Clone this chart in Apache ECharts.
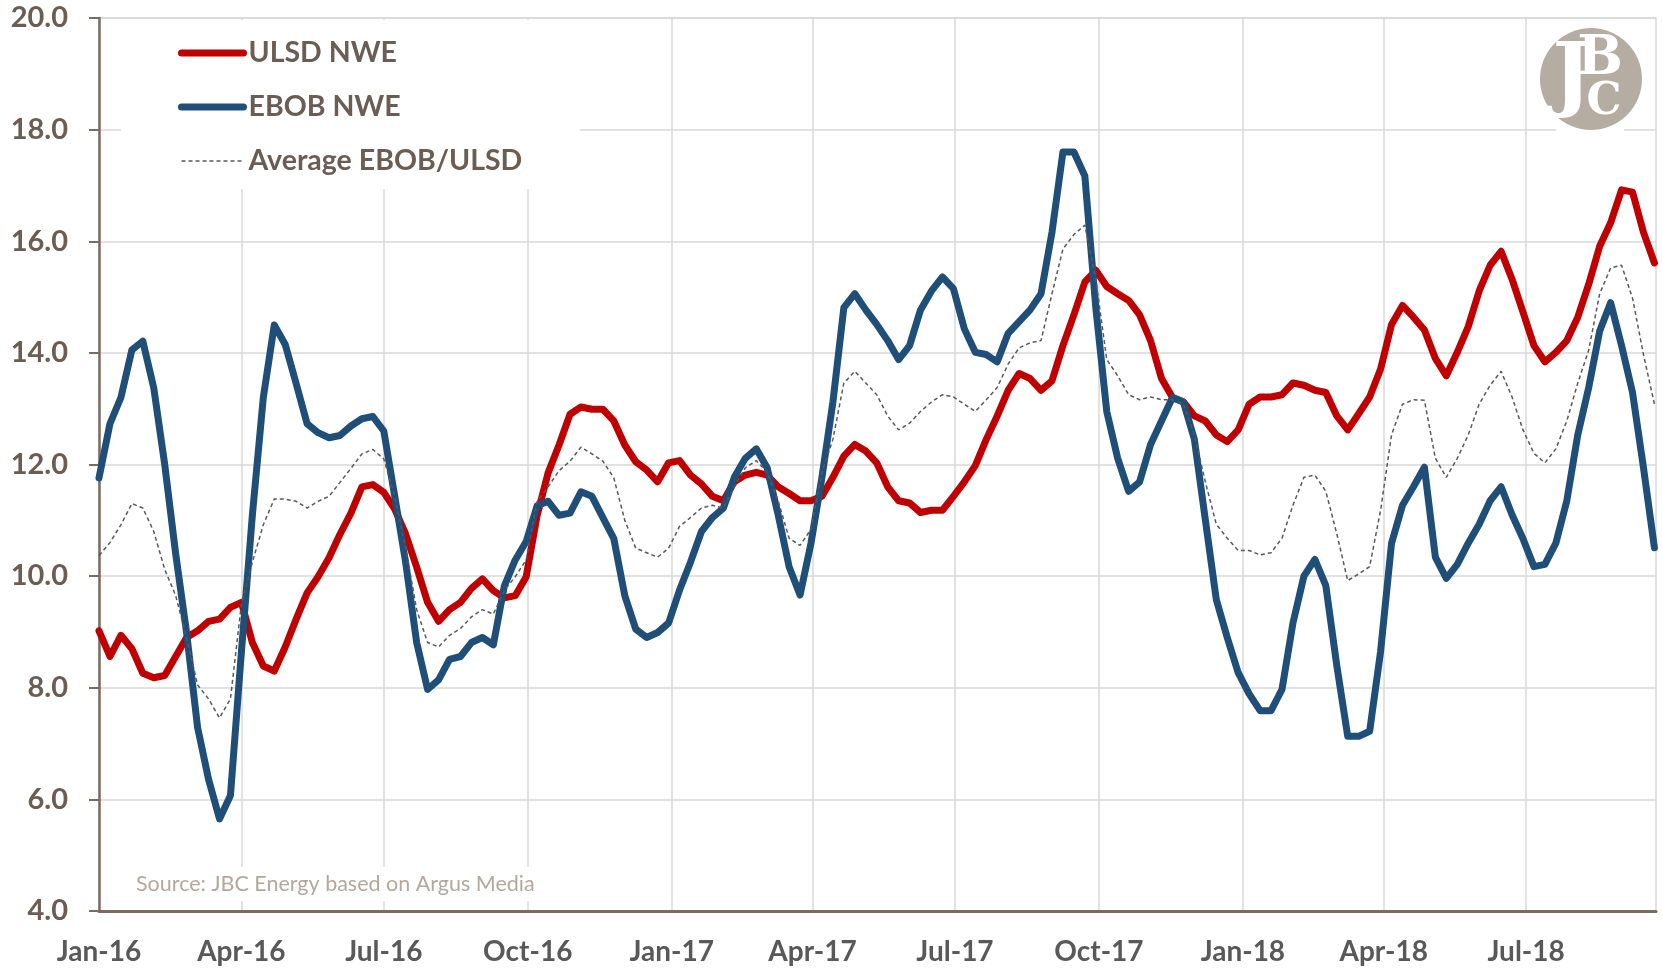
<!DOCTYPE html>
<html style="height: 100%">
<head>
    <meta charset="utf-8">
    <title>ULSD / EBOB NWE</title>
</head>
<body style="height: 100%; margin: 0; background: #fff">
<div id="container" style="width: 1662px; height: 969px"></div>
<script type="text/javascript" src="https://cdn.jsdelivr.net/npm/echarts@6/dist/echarts.min.js"></script>
<script type="text/javascript">
    // weekly readings, first one on 1 Jan 2016
    var startDate = [2016, 0, 1];
    var stepDays = 7;

    var ulsd = [
        9.02, 8.56, 8.94, 8.7, 8.26, 8.18, 8.22, 8.56, 8.9, 9.02,
        9.19, 9.23, 9.44, 9.53, 8.81, 8.39, 8.3, 8.73, 9.23, 9.7,
        9.99, 10.33, 10.75, 11.13, 11.6, 11.64, 11.5, 11.2, 10.75, 10.16,
        9.53, 9.19, 9.4, 9.53, 9.78, 9.95, 9.74, 9.61, 9.65, 9.99,
        11.09, 11.85, 12.35, 12.9, 13.03, 12.99, 12.99, 12.78, 12.35, 12.05,
        11.9, 11.69, 12.03, 12.07, 11.81, 11.65, 11.43, 11.35, 11.69, 11.81,
        11.86, 11.81, 11.6, 11.48, 11.35, 11.35, 11.43, 11.77, 12.15, 12.36,
        12.24, 12.03, 11.6, 11.35, 11.31, 11.14, 11.18, 11.18, 11.43, 11.69,
        11.98, 12.45, 12.87, 13.33, 13.63, 13.54, 13.33, 13.5, 14.13, 14.68,
        15.27, 15.48, 15.19, 15.06, 14.94, 14.68, 14.22, 13.54, 13.2, 13.12,
        12.87, 12.78, 12.53, 12.41, 12.62, 13.08, 13.21, 13.21, 13.25, 13.46,
        13.42, 13.33, 13.29, 12.87, 12.62, 12.91, 13.21, 13.71, 14.51, 14.85,
        14.64, 14.41, 13.9, 13.59, 14.01, 14.47, 15.11, 15.57, 15.82, 15.32,
        14.73, 14.13, 13.84, 14.01, 14.22, 14.64, 15.23, 15.91, 16.33, 16.92,
        16.88, 16.16, 15.61
    ];
    var ebob = [
        11.76, 12.73, 13.2, 14.05, 14.21, 13.37, 12.0, 10.4, 8.98, 7.29,
        6.36, 5.65, 6.07, 8.64, 11.09, 13.2, 14.5, 14.15, 13.45, 12.73,
        12.57, 12.48, 12.52, 12.69, 12.82, 12.86, 12.6, 11.43, 10.24, 8.81,
        7.97, 8.14, 8.51, 8.56, 8.81, 8.9, 8.77, 9.82, 10.29, 10.62,
        11.26, 11.34, 11.09, 11.13, 11.51, 11.43, 11.05, 10.67, 9.65, 9.05,
        8.9, 8.99, 9.16, 9.75, 10.25, 10.8, 11.05, 11.22, 11.77, 12.11,
        12.28, 11.94, 11.1, 10.17, 9.66, 10.59, 11.77, 13.12, 14.81, 15.06,
        14.77, 14.51, 14.22, 13.88, 14.13, 14.77, 15.11, 15.36, 15.15, 14.43,
        14.01, 13.97, 13.84, 14.35, 14.56, 14.77, 15.06, 16.16, 17.6, 17.6,
        17.17, 14.81, 12.95, 12.11, 11.52, 11.69, 12.36, 12.78, 13.2, 13.12,
        12.45, 11.01, 9.58, 8.9, 8.27, 7.89, 7.59, 7.59, 7.97, 9.16,
        10.0, 10.3, 9.83, 8.4, 7.13, 7.13, 7.22, 8.65, 10.59, 11.27,
        11.6, 11.95, 10.34, 9.96, 10.21, 10.59, 10.93, 11.35, 11.6, 11.1,
        10.67, 10.17, 10.21, 10.59, 11.35, 12.53, 13.38, 14.39, 14.9, 14.13,
        13.29, 11.94, 10.51
    ];
    var average = [
        10.37, 10.6, 10.92, 11.3, 11.22, 10.8, 10.12, 9.65, 8.9, 8.05,
        7.8, 7.46, 7.8, 9.5, 10.25, 10.92, 11.38, 11.38, 11.34, 11.22,
        11.34, 11.43, 11.68, 11.93, 12.19, 12.27, 12.1, 11.43, 10.5, 9.4,
        8.81, 8.73, 8.94, 9.06, 9.27, 9.4, 9.32, 9.74, 9.99, 10.29,
        11.34, 11.6, 11.89, 12.06, 12.31, 12.19, 12.06, 11.76, 11.0, 10.5,
        10.42, 10.34, 10.5, 10.89, 11.05, 11.22, 11.27, 11.22, 11.6, 11.94,
        12.07, 11.86, 11.35, 10.68, 10.55, 10.84, 11.86, 12.45, 13.46, 13.67,
        13.46, 13.25, 12.87, 12.62, 12.74, 12.95, 13.12, 13.25, 13.21, 13.08,
        12.95, 13.16, 13.38, 13.8, 14.09, 14.18, 14.22, 15.06, 15.86, 16.12,
        16.29, 15.32, 13.88, 13.59, 13.25, 13.16, 13.21, 13.16, 13.16, 13.08,
        12.53, 11.69, 10.93, 10.68, 10.46, 10.46, 10.38, 10.42, 10.68, 11.27,
        11.77, 11.81, 11.52, 10.76, 9.92, 10.04, 10.17, 11.18, 12.53, 13.08,
        13.16, 13.15, 12.11, 11.77, 12.11, 12.53, 13.08, 13.42, 13.67, 13.21,
        12.62, 12.2, 12.03, 12.28, 12.78, 13.46, 14.05, 15.06, 15.52, 15.57,
        14.98, 13.97, 13.08
    ];

    // quarterly ticks on the date axis
    var tickDates = ['2016-01-01', '2016-04-01', '2016-07-01', '2016-10-01', '2017-01-01', '2017-04-01',
        '2017-07-01', '2017-10-01', '2018-01-01', '2018-04-01', '2018-07-01'];
    var tickLabels = ['Jan-16', 'Apr-16', 'Jul-16', 'Oct-16', 'Jan-17', 'Apr-17',
        'Jul-17', 'Oct-17', 'Jan-18', 'Apr-18', 'Jul-18'];
    var axisStart = '2016-01-01';
    var axisEnd = '2018-09-22';

    function toTime(s) {
        var p = s.split('-');
        return new Date(+p[0], +p[1] - 1, +p[2]).getTime();
    }

    var tickValues = tickDates.map(toTime);
    var dates = ulsd.map(function (v, i) {
        return new Date(startDate[0], startDate[1], startDate[2] + i * stepDays).getTime();
    });

    function pairs(values) {
        return values.map(function (v, i) {
            return [dates[i], v];
        });
    }

    var brown = '#7b6b60';
    var textBrown = '#6b5d54';

    var dom = document.getElementById("container");
    var myChart = echarts.init(dom, null, {renderer: 'canvas'});
    var option = {
        animation: false,
        backgroundColor: '#fff',
        grid: {
            left: 99,
            right: 6,
            top: 18,
            bottom: 58,
            show: true,
            borderColor: '#d9d9d9',
            borderWidth: 1.5
        },
        legend: {
            orient: 'vertical',
            left: 121,
            top: 20,
            padding: [18, 58, 13, 57],
            backgroundColor: '#fff',
            itemWidth: 62,
            itemHeight: 14,
            itemGap: 24,
            selectedMode: false,
            itemStyle: {opacity: 0},
            textStyle: {
                fontFamily: 'Lato',
                fontWeight: 'bold',
                fontSize: 28.5,
                lineHeight: 30,
                color: textBrown
            },
            data: [
                {name: 'ULSD NWE', lineStyle: {width: 7, cap: 'round'}},
                {name: 'EBOB NWE', lineStyle: {width: 7, cap: 'round'}},
                {name: 'Average EBOB/ULSD', lineStyle: {width: 1.5, type: [4, 3]}}
            ]
        },
        xAxis: {
            // dates as millisecond numbers, ticks placed on quarter starts
            type: 'value',
            min: toTime(axisStart),
            max: toTime(axisEnd),
            axisLine: {lineStyle: {color: brown, width: 3}},
            axisTick: {show: false, customValues: tickValues},
            splitLine: {show: true, lineStyle: {color: '#d9d9d9', width: 1.5}},
            axisLabel: {
                customValues: tickValues,
                margin: 27,
                fontFamily: 'Lato',
                fontWeight: 'bold',
                fontSize: 28,
                color: '#595959',
                formatter: function (val) {
                    var k = tickValues.indexOf(val);
                    return k >= 0 ? tickLabels[k] : '';
                }
            }
        },
        yAxis: {
            type: 'value',
            min: 4,
            max: 20,
            interval: 2,
            axisLine: {show: true, lineStyle: {color: brown, width: 2.5}},
            axisTick: {show: true, length: 10, lineStyle: {color: brown, width: 2}},
            splitLine: {lineStyle: {color: '#d9d9d9', width: 1.5}},
            axisLabel: {
                margin: 31,
                fontFamily: 'Lato',
                fontWeight: 'bold',
                fontSize: 29,
                color: textBrown,
                formatter: function (v) {
                    return v.toFixed(1);
                }
            }
        },
        graphic: [
            {
                type: 'text',
                z: 100,
                x: 130,
                y: 867,
                style: {
                    text: 'Source: JBC Energy based on Argus Media',
                    fontFamily: 'Lato',
                    fontSize: 21.5,
                    fill: '#b3a89e',
                    backgroundColor: '#fff',
                    padding: [6, 6]
                }
            },
            {
                type: 'rect', z: 100,
                shape: {x: 1556, y: 22, width: 68, height: 112},
                style: {fill: '#fff'}
            },
            {
                type: 'circle', z: 101,
                shape: {cx: 1591, cy: 79, r: 51},
                style: {fill: '#b5aca2'}
            },
            {
                type: 'text', z: 102, x: 1572, y: 80,
                style: {text: 'J', fontFamily: 'DejaVu Serif', fontWeight: 'bold', fontSize: 82,
                    fill: '#fff', align: 'center', verticalAlign: 'middle'}
            },
            {
                type: 'text', z: 102, x: 1600, y: 60,
                style: {text: 'B', fontFamily: 'DejaVu Serif', fontWeight: 'bold', fontSize: 54,
                    fill: '#fff', align: 'center', verticalAlign: 'middle'}
            },
            {
                type: 'text', z: 102, x: 1604, y: 103,
                style: {text: 'C', fontFamily: 'DejaVu Serif', fontWeight: 'bold', fontSize: 44,
                    fill: '#fff', align: 'center', verticalAlign: 'middle'}
            }
        ],
        series: [
            {
                name: 'ULSD NWE',
                type: 'line',
                symbol: 'none',
                data: pairs(ulsd),
                lineStyle: {color: '#c00000', width: 7, join: 'round', cap: 'round'},
                itemStyle: {color: '#c00000'}
            },
            {
                name: 'EBOB NWE',
                type: 'line',
                symbol: 'none',
                data: pairs(ebob),
                lineStyle: {color: '#1f4e79', width: 7, join: 'round', cap: 'round'},
                itemStyle: {color: '#1f4e79'}
            },
            {
                name: 'Average EBOB/ULSD',
                type: 'line',
                symbol: 'none',
                data: pairs(average),
                lineStyle: {color: '#595959', width: 1.5, type: [4, 3]},
                itemStyle: {color: '#595959'}
            }
        ]
    };
    if (option && typeof option === "object") {
        myChart.setOption(option, true);
    }
</script>
</body>
</html>
